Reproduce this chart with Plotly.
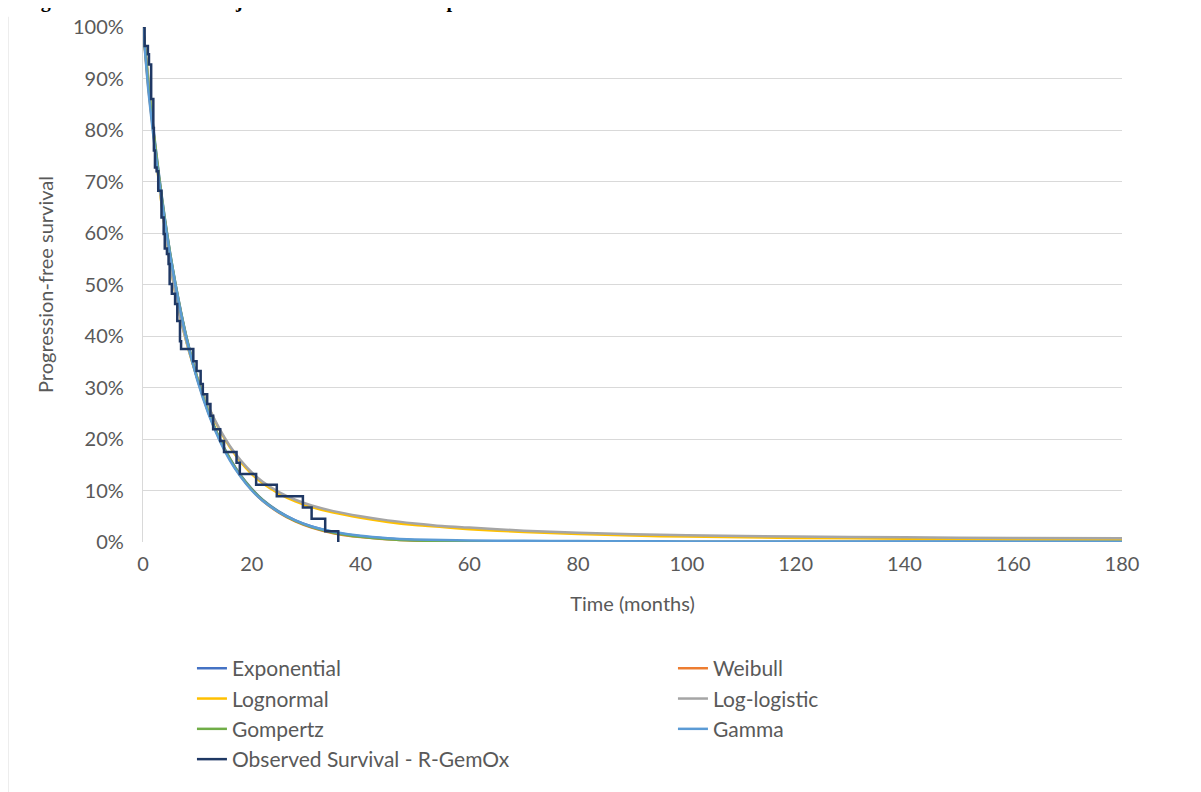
import plotly.graph_objects as go

# ---------------- data ----------------
model_time = [0, 1, 2, 3, 4, 5, 6, 7, 8, 10, 12, 14, 16, 18, 20, 22, 25, 28, 31, 35,
              40, 45, 50, 55, 60, 70, 80, 90, 100, 120, 140, 160, 180]

exponential = [100, 89.0, 79.5, 70.8, 63.0, 56.0, 50.0, 44.6, 39.8, 31.8, 25.4, 20.3, 16.2, 12.9, 10.3,
               8.2, 5.9, 4.2, 3.0, 1.9, 1.1, 0.62, 0.35, 0.20, 0.12, 0.04, 0.01, 0, 0, 0, 0, 0, 0]
weibull = [100, 88.0, 78.6, 70.0, 62.4, 55.6, 49.6, 44.3, 39.5, 31.6, 25.2, 20.1, 16.0, 12.7, 10.1,
           8.0, 5.7, 4.0, 2.8, 1.7, 0.95, 0.52, 0.28, 0.15, 0.08, 0.02, 0, 0, 0, 0, 0, 0, 0]
lognormal = [100, 89.5, 78.8, 69.0, 61.0, 54.0, 48.0, 43.0, 38.8, 31.8, 26.3, 21.9, 18.4, 15.5, 13.2,
             11.4, 9.4, 7.9, 6.8, 5.7, 4.7, 3.9, 3.3, 2.9, 2.5, 1.95, 1.55, 1.25, 1.05, 0.8, 0.65, 0.55, 0.5]
loglogistic = [100, 89.8, 79.0, 69.2, 61.0, 54.0, 48.0, 43.0, 38.8, 31.8, 26.4, 22.1, 18.6, 15.8, 13.5,
               11.7, 9.7, 8.2, 7.1, 6.0, 5.0, 4.2, 3.6, 3.1, 2.8, 2.2, 1.8, 1.5, 1.3, 1.05, 0.9, 0.8, 0.75]
gompertz = [100, 88.5, 79.0, 70.5, 62.8, 56.0, 49.9, 44.5, 39.7, 31.7, 25.3, 20.2, 16.1, 12.8, 10.2,
            8.1, 5.8, 4.1, 2.9, 1.8, 1.0, 0.55, 0.3, 0.16, 0.09, 0.03, 0.01, 0, 0, 0, 0, 0, 0]
gamma = [100, 87.5, 78.0, 69.8, 62.4, 55.7, 49.7, 44.3, 39.5, 31.4, 25.0, 19.9, 15.8, 12.6, 10.0,
         8.0, 5.8, 4.2, 3.0, 2.0, 1.2, 0.75, 0.5, 0.38, 0.3, 0.22, 0.18, 0.15, 0.12, 0.1, 0.08, 0.07, 0.06]

km_time = [0, 0.3, 0.9, 1.1, 1.5, 1.9, 2.0, 2.2, 2.5, 2.8, 3.4, 3.8, 4.0, 4.4, 4.7, 4.9, 5.3, 5.9,
           6.3, 6.8, 7.0, 9.25, 9.85, 10.6, 11.0, 11.8, 12.4, 12.9, 14.2, 14.9, 17.2, 17.8, 20.8,
           24.6, 29.4, 31.0, 33.5, 35.9]
km_surv = [100, 96.3, 94.7, 92.7, 86.0, 80.4, 76.0, 72.7, 72.0, 68.2, 63.0, 59.8, 57.0, 55.9, 54.0,
           50.1, 48.2, 46.2, 42.9, 39.0, 37.5, 35.1, 33.2, 30.7, 28.7, 26.8, 24.5, 21.9, 19.6, 17.5,
           15.4, 13.2, 11.1, 8.9, 6.7, 4.5, 2.1, 0.0]

series_names = ["Exponential", "Weibull", "Lognormal", "Log-logistic", "Gompertz", "Gamma"]
series_values = [exponential, weibull, lognormal, loglogistic, gompertz, gamma]
series_colors = ["#4472C4", "#ED7D31", "#FFC000", "#A5A5A5", "#70AD47", "#5B9BD5"]
km_name = "Observed Survival - R-GemOx"
km_color = "#1F3864"

x_ticks = [0, 20, 40, 60, 80, 100, 120, 140, 160, 180]
y_ticks = [0, 10, 20, 30, 40, 50, 60, 70, 80, 90, 100]
y_ticklabels = [f"{v}%" for v in y_ticks]

FONT = "Lato"
GRAY = "#595959"

fig = go.Figure()
for name, vals, col in zip(series_names, series_values, series_colors):
    fig.add_trace(go.Scatter(
        x=model_time, y=vals, mode="lines", name=name,
        line=dict(color=col, width=2.5, shape="spline", smoothing=0.6),
    ))
fig.add_trace(go.Scatter(
    x=km_time, y=km_surv, mode="lines", name=km_name,
    line=dict(color=km_color, width=2.5, shape="hv"),
))

fig.update_layout(
    width=1193, height=784,
    paper_bgcolor="white", plot_bgcolor="white",
    margin=dict(l=135, r=79, t=19, b=250, autoexpand=False),
    font=dict(family=FONT, size=20, color=GRAY),
    showlegend=True,
    legend=dict(
        orientation="h", x=0.050, xanchor="left", y=-0.206, yanchor="top",
        entrywidth=436, entrywidthmode="pixels",
        font=dict(family=FONT, size=21, color=GRAY),
        tracegroupgap=0, itemwidth=30,
        bgcolor="rgba(0,0,0,0)",
    ),
    xaxis=dict(
        range=[0, 180], tickvals=x_ticks, ticktext=[str(v) for v in x_ticks],
        showgrid=False, zeroline=False, showline=False, automargin=False,
        ticks="", ticklabelstandoff=8,
        title=dict(text="Time (months)", font=dict(family=FONT, size=20, color=GRAY), standoff=22),
    ),
    yaxis=dict(
        range=[0, 100], tickvals=y_ticks, ticktext=y_ticklabels,
        showgrid=True, gridcolor="#D9D9D9", gridwidth=1.3, automargin=False,
        zeroline=False, showline=True, linecolor="#D9D9D9", linewidth=1.3,
        ticks="", ticklabelstandoff=14,
        title=dict(text="Progression-free survival", font=dict(family=FONT, size=20, color=GRAY), standoff=14),
    ),
    annotations=[dict(
        text="<b>Figure 14: Survival of objective R-GemOx model predictions</b>",
        xref="paper", yref="paper", x=-0.125, y=1.026, xanchor="left", yanchor="bottom",
        showarrow=False, font=dict(family="Liberation Serif", size=20, color="black"),
    )],
    shapes=[dict(type="line", xref="paper", yref="paper", x0=-0.138, x1=-0.138,
                 y0=-0.5, y1=1.02, line=dict(color="#E3E3E3", width=1.5))],
)

fig.write_html("out.html")
